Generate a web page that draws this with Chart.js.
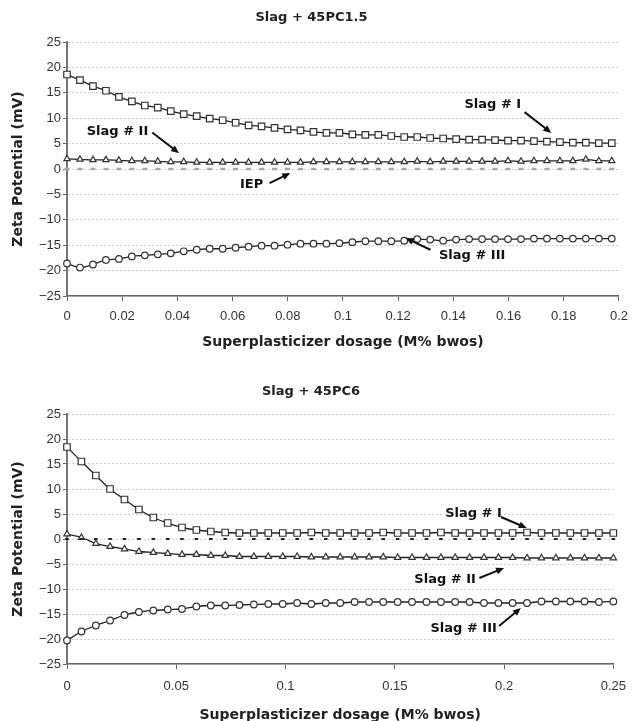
<!DOCTYPE html>
<html>
<head>
<meta charset="utf-8">
<script src="https://cdn.jsdelivr.net/npm/chart.js@4/dist/chart.umd.min.js"></script>
<style>
  html, body { margin: 0; padding: 0; background: #fff; overflow: hidden; }
  #top { position: absolute; left: 0; top: 0; width: 636px; height: 370px; }
  #bottom { position: absolute; left: 0; top: 370px; width: 636px; height: 360px; }
</style>
</head>
<body>
<div id="top"><canvas id="chartTop"></canvas></div>
<div id="bottom"><canvas id="chartBottom"></canvas></div>
<script>
// Slag + 45PC1.5
const dosageTop = [0, 0.0047, 0.0094, 0.0141, 0.0188, 0.0235, 0.0282, 0.0329, 0.0376, 0.0423,
  0.047, 0.0517, 0.0564, 0.0611, 0.0658, 0.0705, 0.0752, 0.0799, 0.0846, 0.0893,
  0.094, 0.0987, 0.1034, 0.1081, 0.1128, 0.1175, 0.1222, 0.1269, 0.1316, 0.1363,
  0.141, 0.1457, 0.1504, 0.1551, 0.1598, 0.1645, 0.1692, 0.1739, 0.1786, 0.1833,
  0.188, 0.1927, 0.1974];
const slagITop = [18.6, 17.5, 16.3, 15.4, 14.2, 13.3, 12.5, 12.1, 11.4, 10.8,
  10.4, 9.9, 9.6, 9.1, 8.6, 8.4, 8.1, 7.8, 7.6, 7.3,
  7.1, 7.1, 6.8, 6.7, 6.7, 6.5, 6.3, 6.3, 6.1, 6.0,
  5.9, 5.8, 5.8, 5.7, 5.6, 5.6, 5.5, 5.4, 5.3, 5.2,
  5.2, 5.1, 5.1];
const slagIITop = [2.0, 1.9, 1.8, 1.8, 1.7, 1.6, 1.6, 1.5, 1.4, 1.4,
  1.3, 1.3, 1.3, 1.3, 1.3, 1.3, 1.3, 1.3, 1.3, 1.4,
  1.4, 1.4, 1.4, 1.4, 1.4, 1.4, 1.4, 1.5, 1.4, 1.5,
  1.5, 1.5, 1.5, 1.5, 1.6, 1.5, 1.6, 1.6, 1.6, 1.6,
  1.9, 1.6, 1.6];
const slagIIITop = [-18.6, -19.4, -18.8, -17.9, -17.7, -17.2, -17.0, -16.8, -16.6, -16.2,
  -15.9, -15.7, -15.7, -15.5, -15.3, -15.1, -15.1, -14.9, -14.7, -14.7,
  -14.7, -14.6, -14.4, -14.2, -14.2, -14.2, -14.1, -13.8, -13.9, -14.1,
  -13.9, -13.8, -13.8, -13.8, -13.8, -13.8, -13.7, -13.7, -13.7, -13.7,
  -13.7, -13.7, -13.7];
const xTicksTop = [0, 0.02, 0.04, 0.06, 0.08, 0.1, 0.12, 0.14, 0.16, 0.18, 0.2];

// Slag + 45PC6
const dosageBottom = [0, 0.0066, 0.0132, 0.0197, 0.0263, 0.0329, 0.0395, 0.0461, 0.0526, 0.0592,
  0.0658, 0.0724, 0.0789, 0.0855, 0.0921, 0.0987, 0.1053, 0.1118, 0.1184, 0.125,
  0.1316, 0.1382, 0.1447, 0.1513, 0.1579, 0.1645, 0.1711, 0.1776, 0.1842, 0.1908,
  0.1974, 0.2039, 0.2105, 0.2171, 0.2237, 0.2303, 0.2368, 0.2434, 0.25];
const slagIBottom = [18.4, 15.5, 12.7, 10.0, 7.9, 5.9, 4.3, 3.2, 2.3, 1.8,
  1.5, 1.3, 1.2, 1.2, 1.2, 1.2, 1.2, 1.3, 1.2, 1.2,
  1.2, 1.2, 1.3, 1.2, 1.2, 1.2, 1.3, 1.2, 1.2, 1.2,
  1.2, 1.2, 1.3, 1.2, 1.2, 1.2, 1.2, 1.2, 1.2];
const slagIIBottom = [1.0, 0.3, -0.9, -1.5, -2.0, -2.5, -2.7, -2.9, -3.1, -3.1,
  -3.3, -3.3, -3.5, -3.5, -3.5, -3.5, -3.5, -3.6, -3.6, -3.6,
  -3.6, -3.6, -3.6, -3.7, -3.7, -3.7, -3.7, -3.7, -3.7, -3.7,
  -3.7, -3.7, -3.8, -3.8, -3.8, -3.8, -3.8, -3.8, -3.8];
const slagIIIBottom = [-20.3, -18.5, -17.3, -16.3, -15.2, -14.6, -14.3, -14.1, -14.0, -13.5,
  -13.3, -13.3, -13.2, -13.1, -13.0, -13.0, -12.8, -13.0, -12.8, -12.8,
  -12.6, -12.6, -12.6, -12.6, -12.6, -12.6, -12.6, -12.6, -12.6, -12.8,
  -12.8, -12.8, -12.8, -12.5, -12.5, -12.5, -12.5, -12.6, -12.5];
const xTicksBottom = [0, 0.05, 0.1, 0.15, 0.2, 0.25];

const yTicks = [-25, -20, -15, -10, -5, 0, 5, 10, 15, 20, 25];
const iepLevel = 0;

// label text, label centre and arrow tail/head, all in data units
const notesTop = [
  { text: 'Slag # I',   at: [0.1543, 12.6],  from: [0.1658, 11.2],  to: [0.1755, 7.1] },
  { text: 'Slag # II',  at: [0.0183, 7.3],   from: [0.0309, 7.2],   to: [0.0406, 3.1] },
  { text: 'IEP',        at: [0.0669, -3.1],  from: [0.0734, -2.8],  to: [0.0809, -0.8] },
  { text: 'Slag # III', at: [0.1468, -17.1], from: [0.1317, -15.9], to: [0.1227, -13.6] }
];
const notesBottom = [
  { text: 'Slag # I',   at: [0.186, 5.0],    from: [0.1986, 4.4],   to: [0.2104, 2.2] },
  { text: 'Slag # II',  at: [0.173, -8.2],   from: [0.1887, -7.8],  to: [0.2, -5.8] },
  { text: 'Slag # III', at: [0.1815, -18.0], from: [0.1977, -17.4], to: [0.2077, -13.8] }
];

const pts = (xs, ys) => xs.map((x, i) => ({ x: x, y: ys[i] }));

const arrowNotes = {
  id: 'arrowNotes',
  afterDatasetsDraw(chart, args, opts) {
    const { ctx, scales: { x, y } } = chart;
    ctx.save();
    ctx.font = 'bold 13px "DejaVu Sans"';
    ctx.fillStyle = '#111';
    ctx.strokeStyle = '#111';
    ctx.textAlign = 'center';
    ctx.textBaseline = 'middle';
    (opts.notes || []).forEach(n => {
      ctx.fillText(n.text, x.getPixelForValue(n.at[0]), y.getPixelForValue(n.at[1]));
      const x1 = x.getPixelForValue(n.from[0]), y1 = y.getPixelForValue(n.from[1]);
      const x2 = x.getPixelForValue(n.to[0]), y2 = y.getPixelForValue(n.to[1]);
      const ang = Math.atan2(y2 - y1, x2 - x1);
      const head = 8, half = 3.5;
      ctx.lineWidth = 2;
      ctx.beginPath();
      ctx.moveTo(x1, y1);
      ctx.lineTo(x2 - head * 0.8 * Math.cos(ang), y2 - head * 0.8 * Math.sin(ang));
      ctx.stroke();
      ctx.beginPath();
      ctx.moveTo(x2, y2);
      ctx.lineTo(x2 - head * Math.cos(ang) + half * Math.sin(ang), y2 - head * Math.sin(ang) - half * Math.cos(ang));
      ctx.lineTo(x2 - head * Math.cos(ang) - half * Math.sin(ang), y2 - head * Math.sin(ang) + half * Math.cos(ang));
      ctx.closePath();
      ctx.fill();
    });
    ctx.restore();
  }
};

function series(data, style, radius) {
  return {
    data: data,
    pointStyle: style,
    pointRadius: radius,
    pointBorderWidth: 1.2,
    pointBorderColor: '#333',
    pointBackgroundColor: '#fff',
    borderColor: '#222',
    borderWidth: 1.3,
    cubicInterpolationMode: 'monotone',
    clip: false
  };
}

function iepMarks(xs, color, radius, width) {
  return {
    data: xs.map(x => ({ x: x, y: iepLevel })),
    showLine: false,
    pointStyle: 'line',
    pointRadius: radius,
    pointBorderWidth: width,
    pointBorderColor: color,
    clip: false
  };
}

function makeChart(id, cfg) {
  return new Chart(document.getElementById(id), {
    type: 'line',
    data: { datasets: cfg.datasets },
    options: {
      responsive: true,
      maintainAspectRatio: false,
      animation: false,
      events: [],
      layout: { padding: { left: 0, right: cfg.right, top: 0, bottom: 0 } },
      plugins: {
        legend: { display: false },
        tooltip: { enabled: false },
        title: {
          display: true,
          text: cfg.title,
          color: '#222',
          font: { family: '"DejaVu Sans"', size: 13, weight: 'bold' },
          padding: cfg.titlePad
        },
        arrowNotes: { notes: cfg.notes }
      },
      scales: {
        x: {
          type: 'linear',
          min: 0,
          max: cfg.xMax,
          afterBuildTicks: s => { s.ticks = cfg.xTicks.map(v => ({ value: v })); },
          afterFit: s => { s.height = cfg.xHeight; },
          ticks: {
            color: '#333',
            font: { family: '"Liberation Sans"', size: 13 },
            padding: cfg.xTickPad,
            maxRotation: 0,
            callback: v => String(v)
          },
          grid: { drawOnChartArea: false, tickLength: 5, tickColor: '#666', tickWidth: 1 },
          border: { color: '#666', width: 1.5 },
          title: {
            display: true,
            text: 'Superplasticizer dosage (M% bwos)',
            color: '#222',
            font: { family: '"DejaVu Sans"', size: 14, weight: 'bold' },
            padding: { top: 0, bottom: cfg.xTitleBottom }
          }
        },
        y: {
          min: -25,
          max: 25,
          afterBuildTicks: s => { s.ticks = yTicks.map(v => ({ value: v })); },
          afterFit: s => { s.width = 67; },
          ticks: {
            color: '#333',
            font: { family: '"Liberation Sans"', size: 13 },
            padding: 2,
            callback: v => (v < 0 ? '\u2212' + Math.abs(v) : String(v))
          },
          grid: { color: '#cfcfcf', lineWidth: 1, tickLength: 4, tickColor: '#666', tickWidth: 1 },
          border: { color: '#777', width: 2, dash: [2, 2] },
          title: {
            display: true,
            text: 'Zeta Potential (mV)',
            color: '#222',
            font: { family: '"DejaVu Sans"', size: 14, weight: 'bold' },
            padding: { top: 9.6, bottom: 0 }
          }
        }
      }
    },
    plugins: [arrowNotes]
  });
}

makeChart('chartTop', {
  title: 'Slag + 45PC1.5',
  titlePad: { top: 10.2, bottom: 16.2 },
  right: 13,
  xMax: 0.2,
  xTicks: xTicksTop,
  xHeight: 74,
  xTickPad: 8,
  xTitleBottom: 19.6,
  notes: notesTop,
  datasets: [
    iepMarks(dosageTop, '#a8a8a8', 2.5, 2.5),
    series(pts(dosageTop, slagITop), 'rect', 4.6),
    series(pts(dosageTop, slagIITop), 'triangle', 3.6),
    series(pts(dosageTop, slagIIITop), 'circle', 3.3)
  ]
});

makeChart('chartBottom', {
  title: 'Slag + 45PC6',
  titlePad: { top: 14.2, bottom: 14.2 },
  right: 14,
  xMax: 0.25,
  xTicks: xTicksBottom,
  xHeight: 66,
  xTickPad: 10,
  xTitleBottom: 6.6,
  notes: notesBottom,
  datasets: [
    iepMarks(dosageBottom, '#222', 1.8, 2),
    series(pts(dosageBottom, slagIBottom), 'rect', 4.6),
    series(pts(dosageBottom, slagIIBottom), 'triangle', 3.6),
    series(pts(dosageBottom, slagIIIBottom), 'circle', 3.3)
  ]
});
</script>
</body>
</html>
